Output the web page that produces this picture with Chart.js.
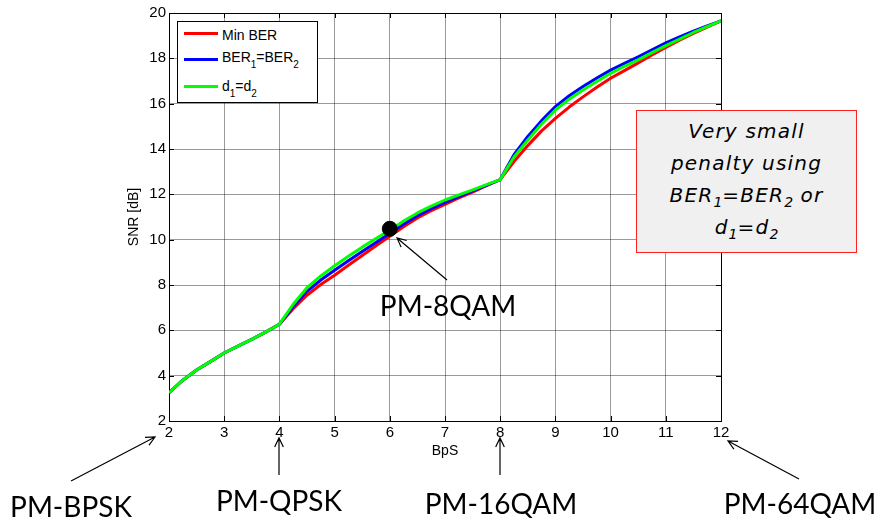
<!DOCTYPE html>
<html>
<head>
<meta charset="utf-8">
<script src="https://cdn.jsdelivr.net/npm/chart.js@4"></script>
<style>
  body { margin: 0; background: #fff; }
  #wrap { position: relative; width: 877px; height: 522px; overflow: hidden; }
  canvas { position: absolute; left: 0; top: 0; }
  .lbl { position: absolute; font-family: Lato, "Open Sans", sans-serif; font-size: 28px; line-height: 28px; color: #000; white-space: nowrap; transform: translateX(-50%); }
  #legend { position: absolute; left: 177px; top: 21px; width: 139px; height: 80px; border: 1px solid #000; background: #fff; }
  .lg-line { position: absolute; left: 6px; width: 34px; height: 3px; }
  .lg-text { position: absolute; left: 44px; font-family: "Liberation Sans", Arial, sans-serif; font-size: 14px; line-height: 14px; white-space: nowrap; }
  .lg-text sub { font-size: 10px; vertical-align: -6px; line-height: 0; }
  #note { position: absolute; left: 636px; top: 110px; width: 219px; height: 137px; border: 1px solid #ff2020; background: #f0f0f0;
          font-family: "DejaVu Sans", sans-serif; font-style: italic; font-size: 20px; letter-spacing: 1.2px; line-height: 32px; text-align: center; padding-top: 4px; box-sizing: content-box; }
  #note sub { font-size: 14px; vertical-align: -5px; line-height: 0; letter-spacing: 0; }
</style>
</head>
<body>
<div id="wrap">
  <canvas id="chart" width="877" height="522"></canvas>

  <div id="legend">
    <div class="lg-line" style="top:10px;background:#ff0000"></div>
    <div class="lg-text" style="top:6px">Min BER</div>
    <div class="lg-line" style="top:36px;background:#0000ff"></div>
    <div class="lg-text" style="top:28px">BER<sub>1</sub>=BER<sub>2</sub></div>
    <div class="lg-line" style="top:63px;background:#00ff00"></div>
    <div class="lg-text" style="top:57px">d<sub>1</sub>=d<sub>2</sub></div>
  </div>

  <div id="note">Very small<br>penalty using<br>BER<sub>1</sub>=BER<sub>2</sub> or<br>d<sub>1</sub>=d<sub>2</sub></div>

  <div class="lbl" style="left:71px;top:492px">PM-BPSK</div>
  <div class="lbl" style="left:279px;top:486px">PM-QPSK</div>
  <div class="lbl" style="left:501px;top:489px">PM-16QAM</div>
  <div class="lbl" style="left:800px;top:489px">PM-64QAM</div>
  <div class="lbl" style="left:448px;top:291px">PM-8QAM</div>
</div>

<script>
// bits per symbol (x axis)
const bps = [2, 2.25, 2.5, 2.75, 3, 3.25, 3.5, 3.75, 4,
             4.25, 4.5, 4.75, 5, 5.25, 5.5, 5.75, 6,
             6.25, 6.5, 6.75, 7, 7.25, 7.5, 7.75, 8,
             8.25, 8.5, 8.75, 9, 9.25, 9.5, 9.75, 10,
             10.25, 10.5, 10.75, 11, 11.25, 11.5, 11.75, 12];

// SNR [dB] for each strategy
const minBer = [3.25, 3.8, 4.25, 4.62, 5.0, 5.3, 5.6, 5.92, 6.27,
                6.95, 7.55, 8.02, 8.43, 8.87, 9.3, 9.73, 10.15,
                10.57, 10.96, 11.28, 11.56, 11.84, 12.1, 12.38, 12.65,
                13.45, 14.15, 14.8, 15.35, 15.85, 16.3, 16.72, 17.12,
                17.46, 17.8, 18.15, 18.48, 18.8, 19.1, 19.38, 19.65];

const berEqual = [3.25, 3.8, 4.25, 4.62, 5.0, 5.3, 5.6, 5.92, 6.27,
                  7.05, 7.72, 8.22, 8.65, 9.07, 9.48, 9.88, 10.28,
                  10.68, 11.06, 11.37, 11.65, 11.9, 12.15, 12.4, 12.65,
                  13.75, 14.55, 15.25, 15.87, 16.35, 16.76, 17.13, 17.48,
                  17.78, 18.07, 18.38, 18.68, 18.95, 19.2, 19.43, 19.65];

const dEqual = [3.25, 3.8, 4.25, 4.62, 5.0, 5.3, 5.6, 5.92, 6.27,
                7.15, 7.88, 8.4, 8.85, 9.27, 9.67, 10.05, 10.42,
                10.82, 11.18, 11.48, 11.75, 11.98, 12.2, 12.43, 12.65,
                13.65, 14.4, 15.1, 15.72, 16.2, 16.6, 16.98, 17.34,
                17.65, 17.93, 18.25, 18.56, 18.85, 19.14, 19.4, 19.65];

// highlighted PM-8QAM operating point
const pm8qamBps = [6];
const pm8qamSnr = [10.48];

const xTickStep = 1;
const yTickStep = 2;

const axisFont = { family: "'Liberation Sans', Arial, sans-serif", size: 15 };

function toPoints(xs, ys) {
  return xs.map((x, i) => ({ x: x, y: ys[i] }));
}

// open-head arrows pointing at the modulation formats (pixel positions)
const arrows = [
  { from: [71, 481], to: [155, 437] },
  { from: [279, 475], to: [279, 438] },
  { from: [500, 475], to: [500, 438] },
  { from: [799, 479], to: [728, 441] },
  { from: [447, 280], to: [397, 238] }
];

// matlab-like frame with inward ticks
const framePlugin = {
  id: "frame",
  beforeDatasetsDraw(chart) {
    const { ctx, chartArea: a, scales } = chart;
    ctx.save();
    ctx.strokeStyle = "#000";
    ctx.lineWidth = 1;
    ctx.strokeRect(a.left + 0.5, a.top + 0.5, a.right - a.left, a.bottom - a.top);
    const t = 5;
    ctx.beginPath();
    scales.x.ticks.forEach(tk => {
      const px = Math.round(scales.x.getPixelForValue(tk.value)) + 0.5;
      ctx.moveTo(px, a.bottom); ctx.lineTo(px, a.bottom - t);
      ctx.moveTo(px, a.top); ctx.lineTo(px, a.top + t);
    });
    scales.y.ticks.forEach(tk => {
      const py = Math.round(scales.y.getPixelForValue(tk.value)) + 0.5;
      ctx.moveTo(a.left, py); ctx.lineTo(a.left + t, py);
      ctx.moveTo(a.right, py); ctx.lineTo(a.right - t, py);
    });
    ctx.stroke();
    ctx.restore();
  }
};

const arrowPlugin = {
  id: "arrows",
  afterDraw(chart) {
    const ctx = chart.ctx;
    ctx.save();
    ctx.strokeStyle = "#000";
    ctx.lineWidth = 1.2;
    arrows.forEach(a => {
      const [x0, y0] = a.from, [x1, y1] = a.to;
      const ang = Math.atan2(y1 - y0, x1 - x0);
      const h = 10, spread = 0.45;
      ctx.beginPath();
      ctx.moveTo(x0, y0); ctx.lineTo(x1, y1);
      ctx.moveTo(x1 - h * Math.cos(ang - spread), y1 - h * Math.sin(ang - spread));
      ctx.lineTo(x1, y1);
      ctx.lineTo(x1 - h * Math.cos(ang + spread), y1 - h * Math.sin(ang + spread));
      ctx.stroke();
    });
    ctx.restore();
  }
};

const lineStyle = { borderWidth: 3, pointRadius: 0, tension: 0, fill: false, borderJoinStyle: "round" };

new Chart(document.getElementById("chart"), {
  type: "line",
  data: {
    datasets: [
      { label: "PM-8QAM", data: toPoints(pm8qamBps, pm8qamSnr), showLine: false,
        pointRadius: 7.5, pointBackgroundColor: "#000", pointBorderColor: "#000", order: 0 },
      { label: "d1=d2", data: toPoints(bps, dEqual), borderColor: "#00ff00", order: 1, ...lineStyle },
      { label: "BER1=BER2", data: toPoints(bps, berEqual), borderColor: "#0000ff", order: 2, ...lineStyle },
      { label: "Min BER", data: toPoints(bps, minBer), borderColor: "#ff0000", order: 3, ...lineStyle }
    ]
  },
  options: {
    responsive: false,
    animation: false,
    layout: { padding: { left: 120, right: 156, top: 13, bottom: 61 } },
    plugins: { legend: { display: false }, tooltip: { enabled: false } },
    scales: {
      x: {
        type: "linear", min: 2, max: 12,
        afterFit: s => { s.height = 40; },
        ticks: { stepSize: xTickStep, color: "#000", font: axisFont, padding: 3 },
        grid: { color: "rgba(0,0,0,0.4)", drawTicks: false },
        border: { color: "#000" },
        title: { display: true, text: "BpS", color: "#000",
                 font: { family: axisFont.family, size: 14 }, padding: { top: 0, bottom: 1 } }
      },
      y: {
        min: 2, max: 20,
        afterFit: s => { s.width = 49; },
        ticks: { stepSize: yTickStep, color: "#000", font: axisFont, padding: 3 },
        grid: { color: "rgba(0,0,0,0.4)", drawTicks: false },
        border: { color: "#000" },
        title: { display: true, text: "SNR [dB]", color: "#000",
                 font: { family: axisFont.family, size: 14 }, padding: { top: 6, bottom: 0 } }
      }
    }
  },
  plugins: [framePlugin, arrowPlugin]
});
</script>
</body>
</html>
